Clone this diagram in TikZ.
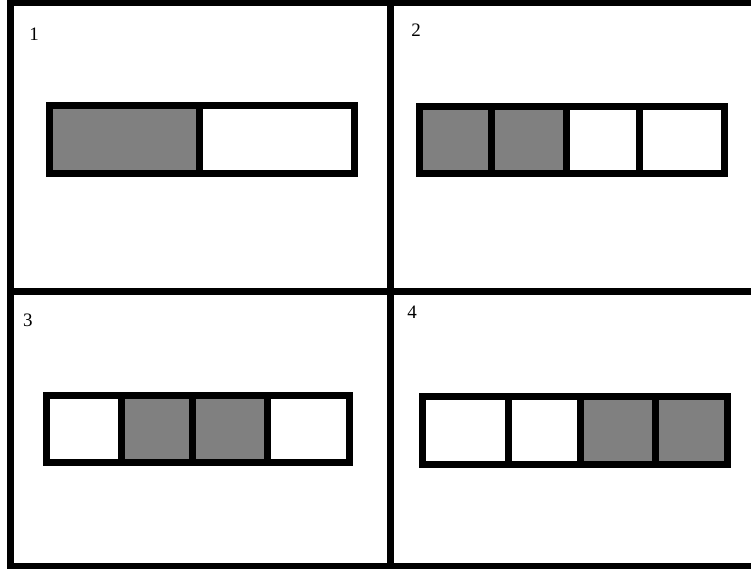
\documentclass[tikz,border=0pt]{standalone}
\usepackage{fontspec}
\setmainfont{Liberation Serif}
\definecolor{grisCelda}{RGB}{128,128,128}
\usepackage{tikz}

\begin{document}
\begin{tikzpicture}[
  x=1pt, y=-1pt,
  rejilla/.style={line width=7pt, black},
  celda/.style={line width=7pt, draw=black, fill=white},
  llena/.style={celda, fill=grisCelda},
  etiqueta/.style={inner sep=0pt, font=\fontsize{19}{22}\selectfont}
]
\useasboundingbox (0,0) rectangle (751,569);

% Marco y divisiones
\draw[rejilla] (10.5,0) -- (10.5,569);
\draw[rejilla] (390,0) -- (390,569);
\draw[rejilla] (7,2.5) -- (751,2.5);
\draw[rejilla] (7,291) -- (751,291);
\draw[rejilla] (7,566) -- (751,566);

% Panel 1
\node[etiqueta] (n1) at (34,34) {1};
\draw[llena] (49.5,105.5) rectangle (199,173.5);
\draw[celda] (199,105.5) rectangle (354.5,173.5);

% Panel 2
\node[etiqueta] (n2) at (416,30) {2};
\draw[llena] (419.5,106.5) rectangle (491.5,173.5);
\draw[llena] (491.5,106.5) rectangle (566,173.5);
\draw[celda] (566,106.5) rectangle (639.5,173.5);
\draw[celda] (639.5,106.5) rectangle (724.5,173.5);

% Panel 3
\node[etiqueta] (n3) at (28,320) {3};
\draw[celda] (46,395) rectangle (121,462.5);
\draw[llena] (121,395) rectangle (192.5,462.5);
\draw[llena] (192.5,395) rectangle (267,462.5);
\draw[celda] (267,395) rectangle (349.5,462.5);

% Panel 4
\node[etiqueta] (n4) at (412,312) {4};
\draw[celda] (422.5,396) rectangle (508,464);
\draw[celda] (508,396) rectangle (580.5,464);
\draw[llena] (580.5,396) rectangle (655.5,464);
\draw[llena] (655.5,396) rectangle (727.5,464);

\end{tikzpicture}
\end{document}
